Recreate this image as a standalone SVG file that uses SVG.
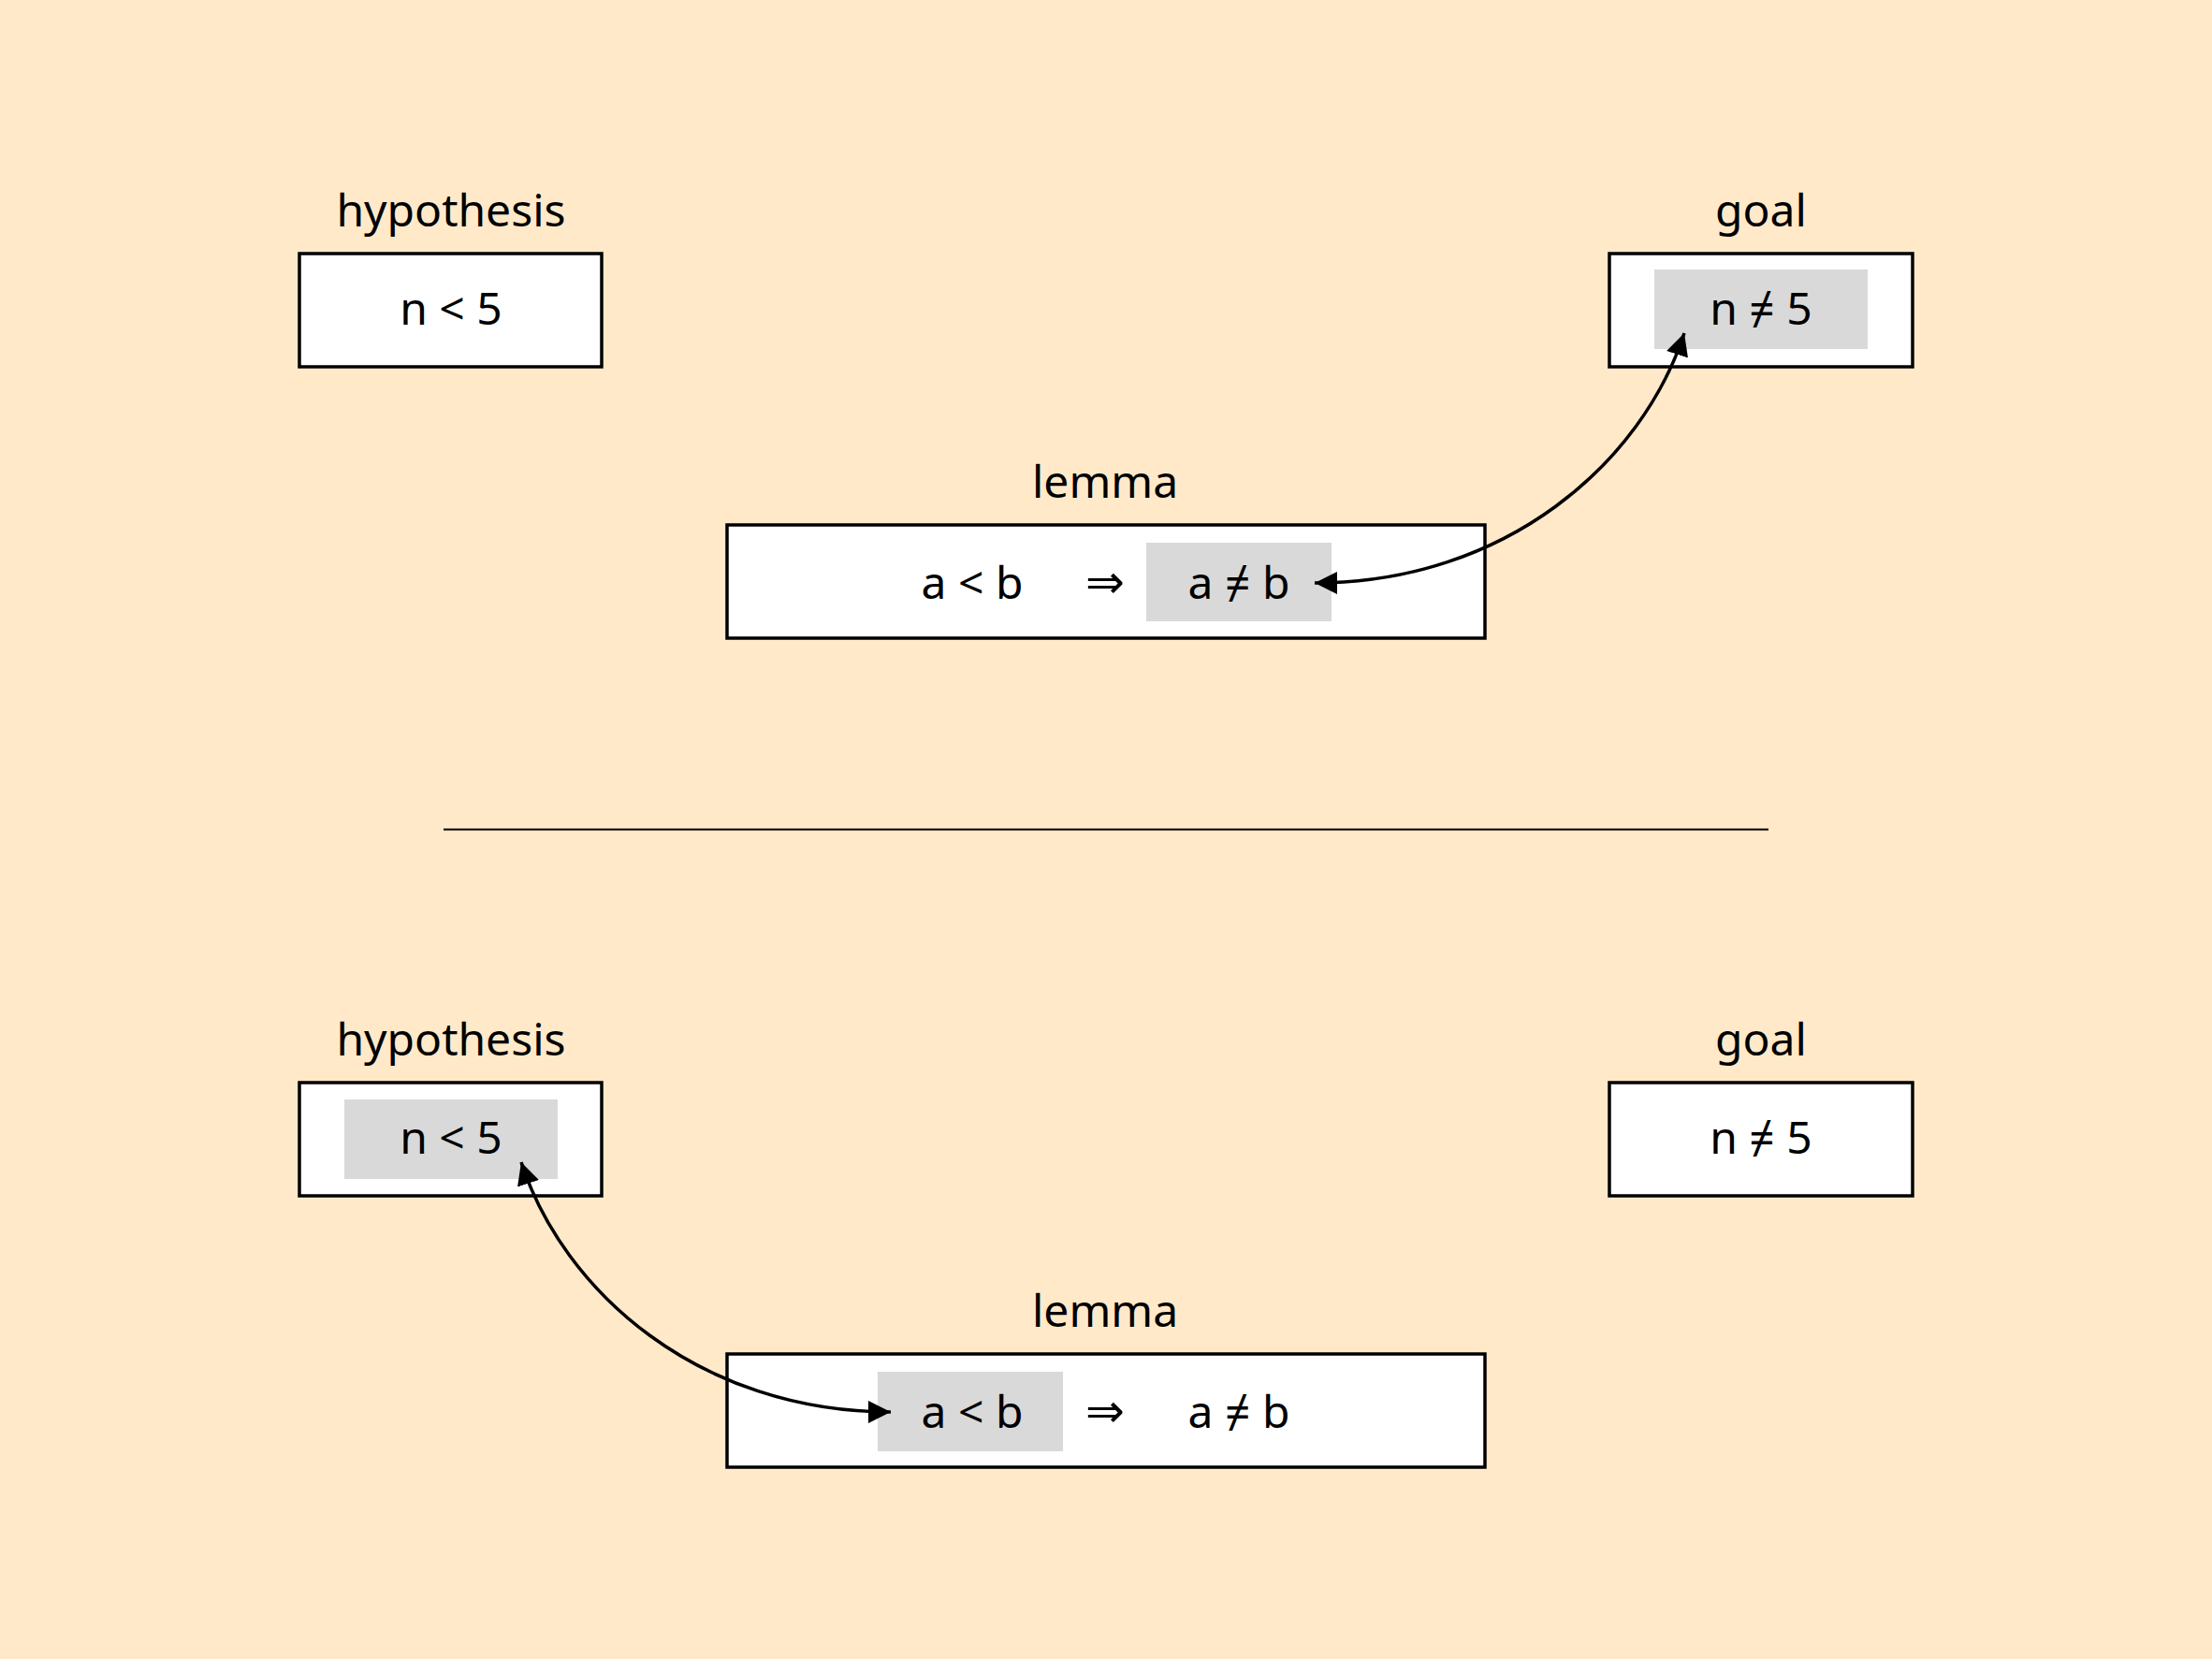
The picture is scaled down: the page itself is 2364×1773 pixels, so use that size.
<svg xmlns="http://www.w3.org/2000/svg" width="2364" height="1773" viewBox="0 0 2364 1773">
<style>
.box{fill:#ffffff;stroke:#000000;stroke-width:3.5}
.hl{fill:#d9d9d9}
.t{font-family:"Noto Sans","DejaVu Sans",sans-serif;font-size:48px;fill:#000000;text-anchor:middle}
.sym{font-family:"DejaVu Sans",sans-serif;font-size:50px;fill:#000000;text-anchor:middle}
.conn{fill:none;stroke:#000000;stroke-width:3.5}
</style>
<defs>
<marker id="ah" markerUnits="userSpaceOnUse" markerWidth="26" markerHeight="26" refX="24" refY="12" orient="auto-start-reverse" viewBox="0 0 26 26">
<path d="M0,0 L24,12 L0,24 z" fill="#000000"/>
</marker>
</defs>
<rect x="0" y="0" width="2364" height="1773" fill="#ffe9c9"/>

<g id="top-hypothesis">
<text class="t" x="482" y="242">hypothesis</text>
<rect class="box" x="320" y="271" width="323" height="121"/>
<text class="t" x="482" y="347">n &lt; 5</text>
</g>
<g id="top-goal">
<text class="t" x="1882" y="242">goal</text>
<rect class="box" x="1720" y="271" width="324" height="121"/>
<rect class="hl" x="1768" y="288" width="228" height="85"/>
<text class="t" x="1882" y="347">n ≠ 5</text>
</g>
<g id="top-lemma">
<text class="t" x="1181" y="532">lemma</text>
<rect class="box" x="777" y="561" width="810" height="121"/>
<rect class="hl" x="1225" y="580" width="198" height="84"/>
<text class="t" x="1039" y="640">a &lt; b</text>
<text class="sym" x="1181" y="639">⇒</text>
<text class="t" x="1324" y="640">a ≠ b</text>
</g>

<line x1="474" y1="886.5" x2="1890" y2="886.5" stroke="#000000" stroke-width="2"/>

<g id="bottom-hypothesis">
<text class="t" x="482" y="1128">hypothesis</text>
<rect class="box" x="320" y="1157" width="323" height="121"/>
<rect class="hl" x="368" y="1175" width="228" height="85"/>
<text class="t" x="482" y="1233">n &lt; 5</text>
</g>
<g id="bottom-goal">
<text class="t" x="1882" y="1128">goal</text>
<rect class="box" x="1720" y="1157" width="324" height="121"/>
<text class="t" x="1882" y="1233">n ≠ 5</text>
</g>
<g id="bottom-lemma">
<text class="t" x="1181" y="1418">lemma</text>
<rect class="box" x="777" y="1447" width="810" height="121"/>
<rect class="hl" x="938" y="1466" width="198" height="85"/>
<text class="t" x="1039" y="1526">a &lt; b</text>
<text class="sym" x="1181" y="1525">⇒</text>
<text class="t" x="1324" y="1526">a ≠ b</text>
</g>

<g id="connectors">
<path class="conn" d="M1405,623 C1610,623 1755,494 1800,356" marker-start="url(#ah)" marker-end="url(#ah)"/>
<path class="conn" d="M952,1509 C747,1509 602,1380 557,1242" marker-start="url(#ah)" marker-end="url(#ah)"/>
</g>
</svg>
